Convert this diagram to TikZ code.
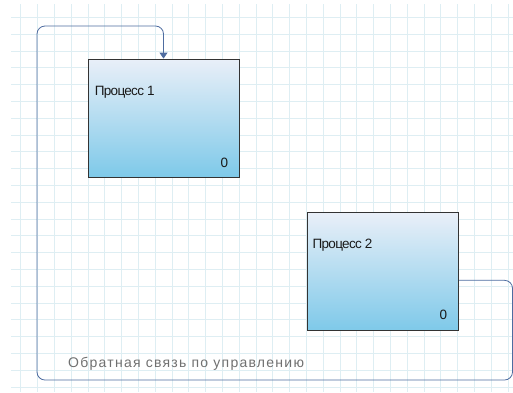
\documentclass[tikz,border=0pt]{standalone}
\usepackage{fontspec}
\setmainfont{Liberation Sans}
\usetikzlibrary{positioning,arrows.meta}

\definecolor{gridline}{RGB}{222,238,243}
\definecolor{boxtop}{RGB}{233,239,248}
\definecolor{boxbottom}{RGB}{126,201,233}
\definecolor{linkblue}{RGB}{78,108,160}
\definecolor{labelgray}{RGB}{112,112,112}

\tikzset{
  process/.style={draw=black!80, line width=0.8pt, top color=boxtop, bottom color=boxbottom,
    minimum width=151pt, minimum height=118pt, inner sep=0pt},
  ptext/.style={font=\fontsize{13.5}{15}\selectfont\addfontfeature{LetterSpace=-5}, text=black!90, inner sep=0pt},
  feedback/.style={draw=linkblue, line width=0.8pt, rounded corners=8pt},
}

\begin{document}
\begin{tikzpicture}[x=1pt, y=-1pt]
            \useasboundingbox (0,0) rectangle (513,392);
            \fill[white] (0,0) rectangle (513,392);
            
            % Grid
            
            \begin{scope}
              \clip (11,4) rectangle (513,392);
              \foreach \gx in {0,...,29}
                \draw[gridline, line width=0.55pt] (20.7+16.8*\gx,4) -- (20.7+16.8*\gx,392);
              \foreach \gy in {0,...,22}
                \draw[gridline, line width=0.55pt] (11,17.3+16.8*\gy) -- (513,17.3+16.8*\gy);
            \end{scope}
            
            % Nodes
            
            \node[process] (proc1) at (163.5,118) {};
            \node[process, below right=35pt and 68pt of proc1] (proc2) {};
            \node[ptext, anchor=west] (proc1name) at ([xshift=7pt, yshift=-34pt]proc1.north west) {Процесс 1};
            \node[ptext, anchor=east] (proc1val) at ([xshift=-11pt, yshift=15pt]proc1.south east) {0};
            \node[ptext, anchor=west] (proc2name) at ([xshift=5pt, yshift=-33pt]proc2.north west) {Процесс 2};
            \node[ptext, anchor=east] (proc2val) at ([xshift=-12pt, yshift=16pt]proc2.south east) {0};
            \node[anchor=west, inner sep=0pt, text=labelgray,
                  font=\fontsize{14}{16}\selectfont\addfontfeature{LetterSpace=9}] (fblabel) at (68,364) {Обратная связь по управлению};
            
            % Edges
            
            \draw[feedback, -{Triangle[length=6pt, width=8pt]}] ([yshift=-8.5pt]proc2.east) -| (512.5,380) -| (37,26) -| (proc1.north);
            
\end{tikzpicture}
\end{document}
